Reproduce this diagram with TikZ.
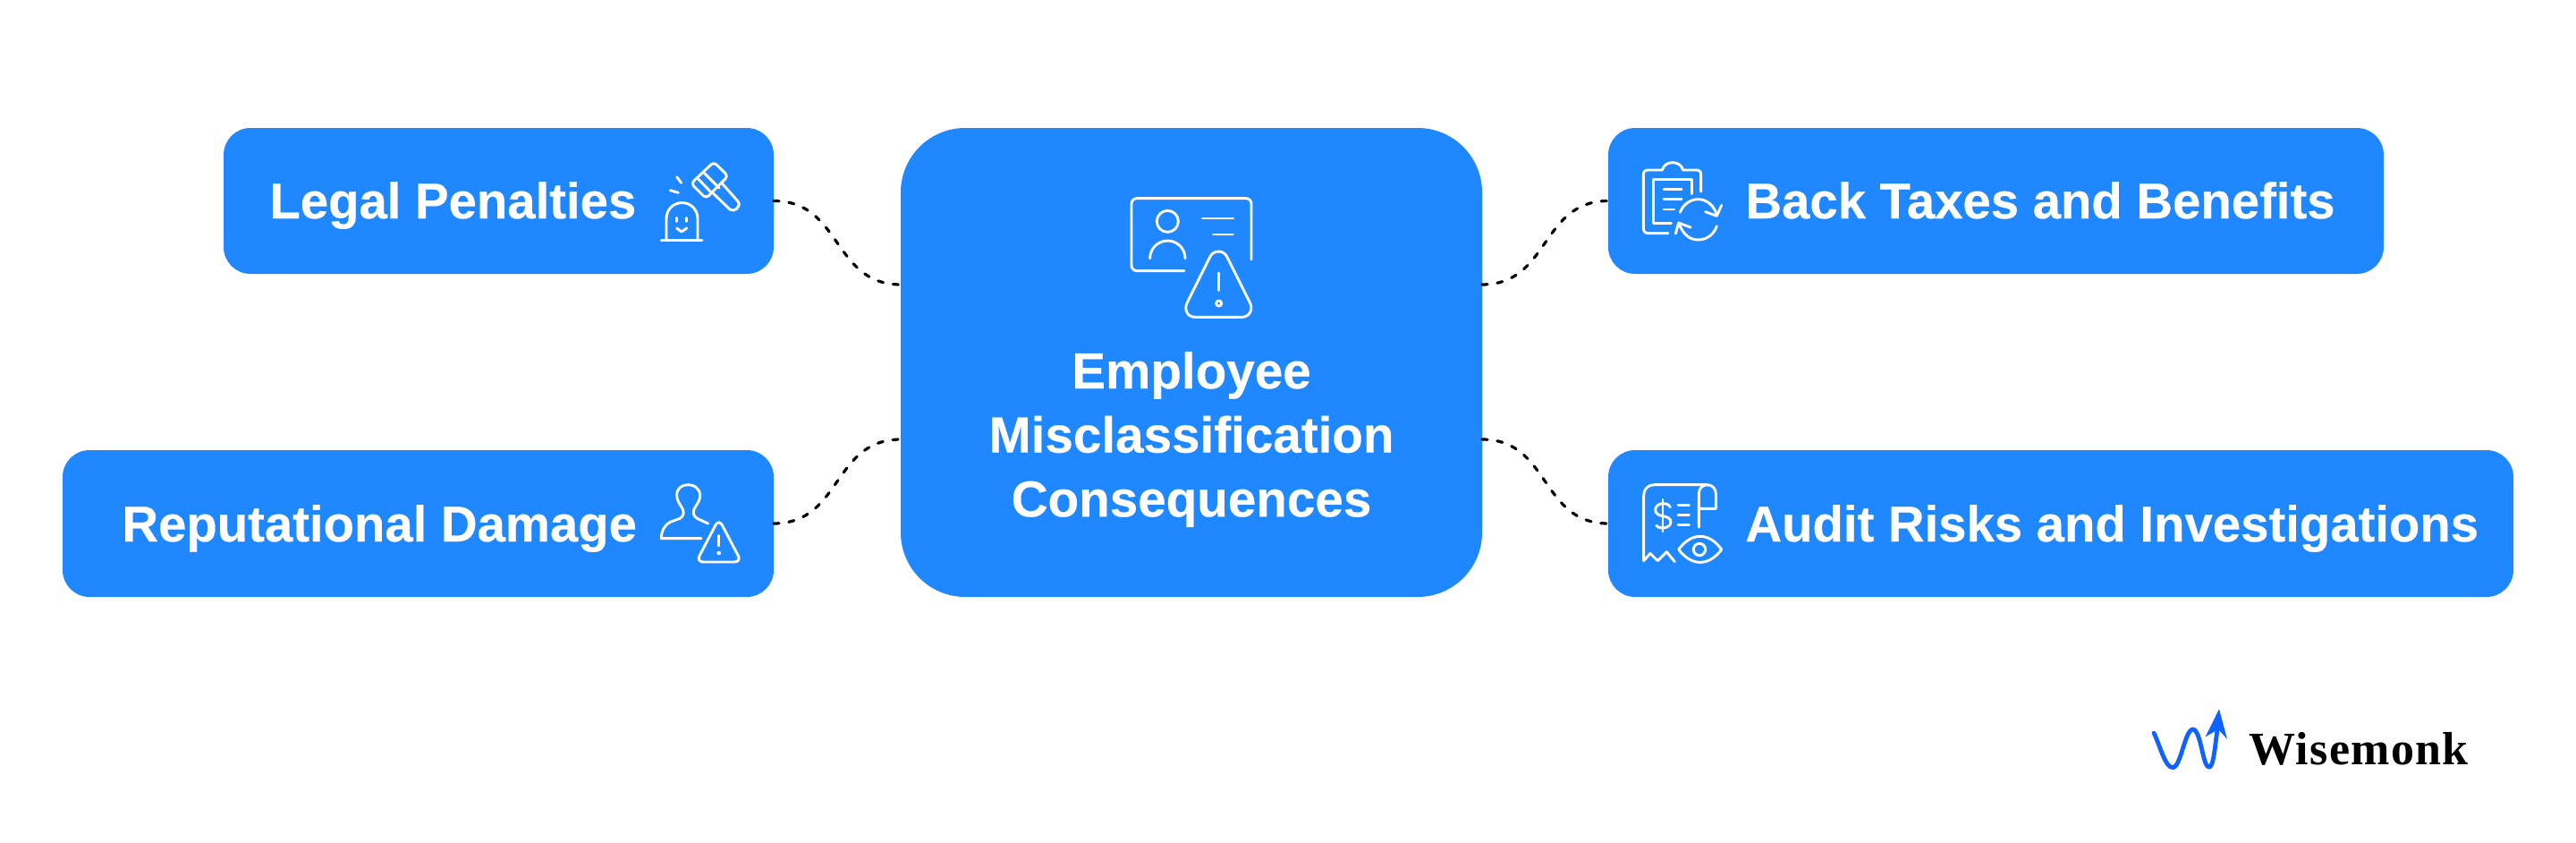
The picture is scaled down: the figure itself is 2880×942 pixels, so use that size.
\documentclass[tikz,border=0pt]{standalone}
\usepackage{fontspec}
\setmainfont{Liberation Sans}[BoldFeatures={FakeBold=0.35}]
\newfontfamily\logofont{Liberation Serif}[BoldFeatures={LetterSpace=2.5}]
\definecolor{bluebox}{HTML}{1F87FF}
\definecolor{logoblue}{HTML}{0F62FE}
\tikzset{
  box/.style={fill=bluebox,draw=none,rounded corners=15pt,inner sep=0pt,outer sep=0pt},
  corebox/.style={box,rounded corners=36pt},
  label/.style={text=white,font=\fontsize{28.15pt}{36pt}\selectfont\bfseries,inner sep=0pt,anchor=base west},
  link/.style={draw=black,line width=1.6pt,dash pattern=on 3pt off 5.5pt,line cap=round},
  icon/.style={draw=white,line width=1.45pt,line cap=round,line join=round,fill=none},
  zoomed/.style={x=0.16667pt,y=-0.16667pt},
}
\begin{document}
\begin{tikzpicture}[x=0.5pt,y=-0.5pt]
\useasboundingbox[fill=white] (0,0) rectangle (2880,942);
% boxes
\node[box,minimum width=307.5pt,minimum height=81.5pt] (legal) at (557.5,224.5) {};
\node[box,minimum width=397.5pt,minimum height=82pt] (reput) at (467.5,585) {};
\node[corebox,minimum width=325pt,minimum height=262pt] (core) at (1332,405) {};
\node[box,minimum width=433.5pt,minimum height=81.5pt] (back) at (2231.5,224.5) {};
\node[box,minimum width=506pt,minimum height=82pt] (audit) at (2304,585) {};
% labels
\node[label] (tlegal) at (301,244) {Legal Penalties};
\node[label] (treput) at (136,605) {Reputational Damage};
\node[label] (tback) at (1951,244) {Back Taxes and Benefits};
\node[label] (taudit) at (1951,605) {Audit Risks and Investigations};
\node[text=white,font=\fontsize{28.3pt}{35.8pt}\selectfont\bfseries,align=center,inner sep=0pt] (tcore) at (1332,491) {Employee\\Misclassification\\Consequences};
% connectors
\coordinate (cl1) at (1007,318);
\coordinate (cl2) at (1007,491);
\coordinate (cr1) at (1657,318);
\coordinate (cr2) at (1657,491);
\draw[link] (legal.east) to[out=0,in=180,looseness=1.15] (cl1);
\draw[link] (reput.east) to[out=0,in=180,looseness=1.15] (cl2);
\draw[link] (cr1) to[out=0,in=180,looseness=1.15] (back.west);
\draw[link] (cr2) to[out=0,in=180,looseness=1.15] (audit.west);
% centre icon
\begin{scope}[shift={(1200,190)},zoomed]
\draw[icon,rounded corners=3pt] (372,338) -- (195,338) -- (195,95) -- (597,95) -- (597,300);
\draw[icon] (316,172) circle[radius=36];
\draw[icon] (257,296) arc[start angle=180,end angle=360,radius=59];
\draw[icon] (433,162) -- (536,162);
\draw[icon] (470,216) -- (535,216);
\draw[icon] (460,288) .. controls (472,268) and (502,268) .. (514,288) -- (590,440) .. controls (606,468) and (590,493) .. (565,493) -- (408,493) .. controls (383,493) and (368,468) .. (384,440) -- cycle;
\draw[icon] (488,345) -- (488,403);
\draw[icon] (488,447) circle[radius=9];
\end{scope}
% gavel icon
\begin{scope}[shift={(710,160)},zoomed]
\draw[icon,rounded corners=2pt] (188,135) -- (264,63) -- (312,110) -- (238,185) -- cycle;
\draw[icon] (232,100) -- (282,150);
\draw[icon] (210,118) -- (258,168);
\draw[icon] (262,168) -- (318,222) .. controls (332,234) and (358,212) .. (345,195) -- (293,136);
\draw[icon] (88,325) -- (225,325);
\draw[icon] (105,325) -- (105,252) arc[start angle=180,end angle=360,radius=52.5] -- (210,325);
\draw[icon] (139,250) -- (139,262);
\draw[icon] (173,250) -- (173,262);
\draw[icon] (140,285) -- (156,297) -- (173,285);
\draw[icon] (140,113) -- (155,133);
\draw[icon] (118,158) -- (145,166);
\end{scope}
% person warning icon
\begin{scope}[shift={(710,510)},zoomed]
\draw[icon] (245,225) -- (208,208) .. controls (192,198) and (193,182) .. (203,168) .. controls (213,154) and (218,142) .. (218,130) .. controls (216,106) and (198,95) .. (178,95) .. controls (158,95) and (140,106) .. (140,130) .. controls (140,144) and (147,156) .. (156,170) .. controls (166,184) and (165,200) .. (150,208) -- (118,220) .. controls (100,228) and (88,250) .. (88,275) -- (222,275);
\draw[icon,rounded corners=4pt] (281,209) -- (357,354) -- (205,354) -- cycle;
\draw[icon] (281,265) -- (281,300);
\fill[white] (281,324) circle[radius=7];
\end{scope}
% clipboard icon
\begin{scope}[shift={(1810,160)},zoomed]
\draw[icon] (165,302) -- (100,302) .. controls (88,302) and (82,296) .. (82,285) -- (82,105) .. controls (82,95) and (88,90) .. (98,90) -- (145,90) .. controls (150,72) and (165,65) .. (180,65) .. controls (195,65) and (210,72) .. (215,90) -- (262,90) .. controls (270,90) and (275,95) .. (275,105) -- (275,162);
\draw[icon] (245,170) -- (245,122) -- (116,122) -- (116,268) -- (175,268);
\draw[icon] (150,155) -- (210,155);
\draw[icon] (150,188) -- (210,188);
\draw[icon] (150,222) -- (185,222);
\draw[icon] (205,232) .. controls (215,205) and (240,188) .. (265,188) .. controls (295,188) and (318,208) .. (328,240);
\draw[icon] (290,230) -- (328,244) -- (344,208);
\draw[icon] (328,278) .. controls (318,308) and (292,324) .. (265,324) .. controls (240,324) and (215,308) .. (202,270);
\draw[icon] (240,282) -- (200,267) -- (190,303);
\end{scope}
% receipt icon
\begin{scope}[shift={(1810,520)},zoomed]
\draw[icon] (83,320) -- (83,100) .. controls (83,80) and (98,65) .. (118,65) -- (295,65) .. controls (315,65) and (325,80) .. (325,95) -- (325,145) -- (268,145);
\draw[icon] (268,207) -- (268,95) .. controls (268,78) and (280,65) .. (297,65);
\draw[icon] (83,320) -- (105,295) -- (130,320) -- (160,290) -- (187,323);
\draw[icon] (147,115) -- (147,222);
\draw[icon] (172,140) .. controls (165,128) and (155,128) .. (147,128) .. controls (130,128) and (122,140) .. (122,150) .. controls (122,162) and (135,168) .. (147,170) .. controls (162,172) and (174,178) .. (174,190) .. controls (174,202) and (160,210) .. (147,210) .. controls (138,210) and (130,208) .. (125,202);
\draw[icon] (198,133) -- (235,133);
\draw[icon] (198,166) -- (235,166);
\draw[icon] (198,200) -- (235,200);
\draw[icon] (200,282) .. controls (220,255) and (245,238) .. (272,238) .. controls (300,238) and (325,255) .. (344,282) .. controls (325,308) and (300,325) .. (272,325) .. controls (245,325) and (220,308) .. (200,282) -- cycle;
\draw[icon] (270,282) circle[radius=20];
\end{scope}
% logo
\begin{scope}[shift={(2380,780)},zoomed]
\draw[logoblue,line width=2.4pt,line cap=round,line join=round] (84,117) .. controls (105,160) and (122,233) .. (147,233) .. controls (175,233) and (188,105) .. (215,105) .. controls (242,105) and (248,235) .. (270,232) .. controls (285,230) and (290,150) .. (298,100);
\fill[logoblue] (303,37) -- (330,138) -- (300,105) -- (257,130) -- cycle;
\end{scope}
\node[font=\logofont\fontsize{26pt}{30pt}\selectfont\bfseries,text=black,inner sep=0pt,anchor=base west] (brand) at (2514,854) {Wisemonk};
\end{tikzpicture}
\end{document}
